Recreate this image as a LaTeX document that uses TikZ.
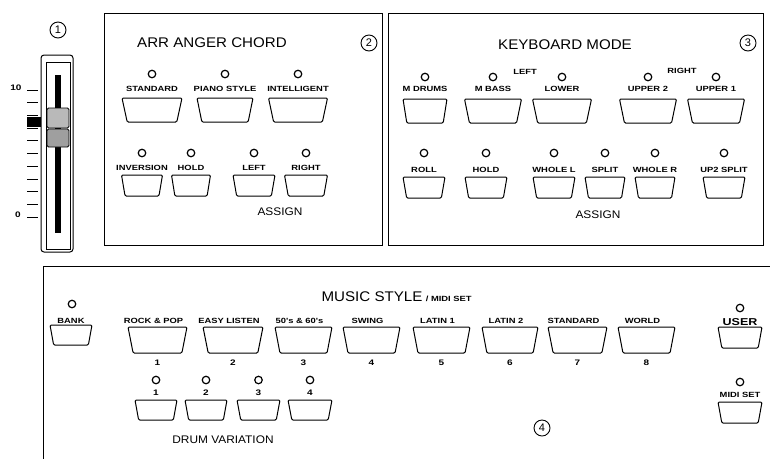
\documentclass[tikz,border=0pt]{standalone}
\usepackage{fontspec}
\setmainfont{Liberation Sans}
\newfontfamily\lblfont[FakeStretch=1.25]{Liberation Sans}
\newfontfamily\ttlfont[FakeStretch=1.08]{Liberation Sans}
\usetikzlibrary{shapes.geometric,positioning}

\begin{document}
\begin{tikzpicture}[x=1pt,y=-1pt,
    panel/.style={draw,line width=1pt},
    keycap/.style={draw,line width=1pt,trapezium,shape border rotate=180,
      trapezium left angle=84,trapezium right angle=84,
      trapezium stretches=true,inner sep=1pt,rounded corners=1.2pt},
    led/.style={draw,circle,line width=1.2pt,minimum size=7.5pt,inner sep=0pt},
    lbl/.style={font=\lblfont\bfseries\fontsize{7.5}{8}\selectfont,inner sep=0pt,
      text height=5.3pt,text depth=0pt},
    ttl/.style={font=\ttlfont\fontsize{14}{16}\selectfont,inner sep=0pt},
    sub/.style={font=\ttlfont\fontsize{11}{12}\selectfont,inner sep=0pt},
    num/.style={font=\lblfont\bfseries\fontsize{8}{9}\selectfont,inner sep=0pt},
    circnum/.style={draw,circle,line width=0.9pt,minimum size=16pt,inner sep=0pt,
      font=\fontsize{11}{12}\selectfont}]
  \useasboundingbox (0,0) rectangle (770,459);

  % master slider
  \node[circnum] (c1) at (58,30) {1};
  \draw[line width=1pt,rounded corners=3pt] (41,55) rectangle (73,252);
  \draw[line width=0.8pt] (46,62) rectangle (70,249);
  \fill (55,75) rectangle (61,233);
  \draw[line width=0.8pt,fill=gray!55,rounded corners=1.5pt] (47,108) rectangle (69,128);
  \draw[line width=0.8pt,fill=gray!75,rounded corners=1.5pt] (47,129) rectangle (69,147);
  \fill (27,117) rectangle (41,127);
  \foreach \i in {0,...,10}
    \draw[line width=0.8pt] (27,{90+\i*12.7}) -- (38,{90+\i*12.7});
  \node[num] (s10) at (16,88) {10};
  \node[num] (s0) at (18,215) {0};

  % arranger chord
  \draw[panel] (104,13) rectangle (382,245);
  \node[ttl] (tArr) at (212,43) {ARR ANGER CHORD};
  \node[circnum] (c2) at (369,43) {2};
  \foreach \nm/\x/\w/\txt in {std/152/60pt/STANDARD,pia/225/56pt/PIANO STYLE,
      int/298/59pt/INTELLIGENT}{
    \node[keycap,minimum width=\w,minimum height=24pt] (k\nm) at (\x,110) {};
    \node[lbl] (l\nm) at (\x,89) {\txt};
    \node[led] (d\nm) at (\x,74) {};
  }
  \foreach \nm/\x/\w/\txt in {inv/142/41pt/INVERSION,hol/191/39pt/HOLD,
      lft/254/42pt/LEFT,rgt/306/43pt/RIGHT}{
    \node[keycap,minimum width=\w,minimum height=21pt] (k\nm) at (\x,185.5) {};
    \node[lbl] (l\nm) at (\x,168) {\txt};
    \node[led] (d\nm) at (\x,153) {};
  }
  \node[sub] (aArr) at (280,212) {ASSIGN};

  % keyboard mode
  \draw[panel] (388,13) rectangle (763,245);
  \node[ttl] (tKey) at (565,45) {KEYBOARD MODE};
  \node[circnum] (c3) at (748,43) {3};
  \foreach \nm/\x/\w/\txt in {mdr/425/44pt/M DRUMS,mbs/493/57pt/M BASS,
      low/562/59pt/LOWER,up2/648/57pt/UPPER 2,up1/716/57pt/UPPER 1}{
    \node[keycap,minimum width=\w,minimum height=24pt] (k\nm) at (\x,111) {};
    \node[lbl] (l\nm) at (\x,89) {\txt};
    \node[led] (d\nm) at (\x,77) {};
  }
  \node[lbl] (gLeft) at (525,72) {LEFT};
  \node[lbl] (gRight) at (682,71) {RIGHT};
  \foreach \nm/\x/\w/\txt in {rol/424/42pt/ROLL,hld/486/42pt/HOLD,
      whl/554/42pt/WHOLE L,spl/605/40pt/SPLIT,whr/655/40pt/WHOLE R,
      u2s/724/42pt/UP2 SPLIT}{
    \node[keycap,minimum width=\w,minimum height=21pt] (k\nm) at (\x,187.5) {};
    \node[lbl] (l\nm) at (\x,170) {\txt};
    \node[led] (d\nm) at (\x,153) {};
  }
  \node[sub] (aKey) at (598,215) {ASSIGN};

  % music style
  \draw[panel] (770,266) -- (43,266) -- (43,459);
  \node[ttl] (tMus) at (372,297) {MUSIC STYLE};
  \node[lbl,anchor=base west] (tMidi) at ([xshift=3pt]tMus.base east) {/ MIDI SET};
  \node[keycap,minimum width=42pt,minimum height=20pt] (kBank) at (71,335) {};
  \node[lbl] (lBank) at (71,321) {BANK};
  \node[led] (dBank) at (72,304) {};
  \foreach \x/\w/\txt/\n in {157.5/59pt/ROCK \& POP/1,233/60pt/EASY LISTEN/2,
      303.5/57pt/50's \& 60's/3,371.5/57pt/SWING/4,441.5/57pt/LATIN 1/5,
      510/56pt/LATIN 2/6,577.5/59pt/STANDARD/7,646.5/57pt/WORLD/8}{
    \node[keycap,minimum width=\w,minimum height=26pt] (s\n) at (\x,340) {};
    \node[lbl] (ls\n) at ({\x-4},321) {\txt};
    \node[num] (ns\n) at (\x,363) {\n};
  }
  \foreach \x/\w/\n in {156/42pt/1,206/42pt/2,258.5/43pt/3,310/44pt/4}{
    \node[keycap,minimum width=\w,minimum height=20pt] (v\n) at (\x,410) {};
    \node[num] (nv\n) at (\x,393) {\n};
    \node[led] (dv\n) at (\x,380) {};
  }
  \node[sub] (aDrum) at (223,440) {DRUM VARIATION};
  \node[keycap,minimum width=44pt,minimum height=21pt] (kUser) at (740,337.5) {};
  \node[font=\lblfont\bfseries\fontsize{10}{11}\selectfont,inner sep=0pt] (lUser) at (740,322) {USER};
  \node[led] (dUser) at (740,308) {};
  \node[keycap,minimum width=44pt,minimum height=21pt] (kMidi) at (740,412.5) {};
  \node[lbl] (lMidi) at (740,395) {MIDI SET};
  \node[led] (dMidi) at (740,382) {};
  \node[circnum] (c4) at (542,428) {4};
\end{tikzpicture}
\end{document}
